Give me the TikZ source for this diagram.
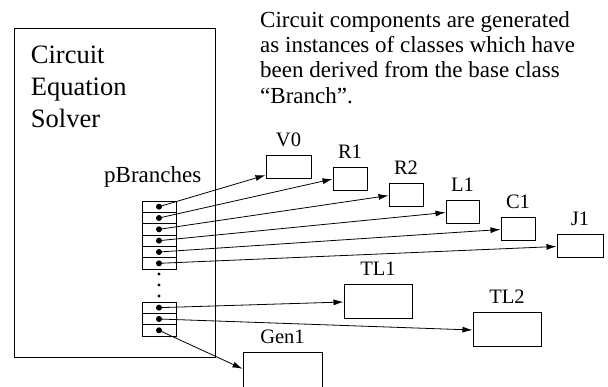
\documentclass[tikz,border=0pt]{standalone}
\usepackage{fontspec}
\setmainfont{Liberation Serif}
\usetikzlibrary{arrows.meta}

\begin{document}
\begin{tikzpicture}[x=1pt,y=-1pt,
        caixa/.style={draw,line width=1pt,inner sep=0pt},
        componente/.style={caixa,
                           label={[font=\fontsize{20.5}{24}\selectfont,inner sep=0pt,yshift=8.5pt]above:#1}},
        celula/.style={draw,line width=0.9pt,minimum width=34pt,minimum height=11.33pt,inner sep=0pt},
        seta/.style={-{Latex[length=10pt,width=6pt]},line width=0.8pt}]
      \clip (0,0) rectangle (608,387);
      \node[caixa,minimum width=201pt,minimum height=329pt] (solver) at (114.5,193.5) {};
      \node[anchor=base west,inner sep=0pt,align=left,font=\fontsize{26.5}{32}\selectfont] (titulo) at (30.7,128) {Circuit\\Equation\\Solver};
      \node[anchor=base west,inner sep=0pt,font=\fontsize{23}{26}\selectfont] (pbranches) at (104,183) {pBranches};
      \node[anchor=base west,inner sep=0pt,align=left,font=\fontsize{23}{25.3}\selectfont] (nota) at (260,103.3)
        {Circuit components are generated\\as instances of classes which have\\been derived from the base class\\“Branch”.};
      % componentes
      \node[componente=V0,minimum width=45pt,minimum height=23pt] (v0) at (288.5,167.5) {};
      \node[componente=R1,minimum width=34pt,minimum height=22.5pt] (r1) at (350,179) {};
      \node[componente=R2,minimum width=34pt,minimum height=23pt] (r2) at (406,195.5) {};
      \node[componente=L1,minimum width=33pt,minimum height=23pt] (l1) at (462.5,212.5) {};
      \node[componente=C1,minimum width=34pt,minimum height=23pt] (c1) at (518,229.5) {};
      \node[componente=J1,minimum width=46pt,minimum height=23pt] (j1) at (580,246.5) {};
      \node[componente=TL1,minimum width=68pt,minimum height=34pt] (tl1) at (378,302) {};
      \node[componente=TL2,minimum width=68pt,minimum height=34pt] (tl2) at (507,330) {};
      \node[componente=Gen1,minimum width=79pt,minimum height=40pt] (gen1) at (282.5,373) {};
      % vetor de ponteiros
      \foreach \i in {1,...,6}
        \node[celula] (a\i) at (159,{201+11.33*(\i-0.5)}) {};
      \foreach \i in {1,2,3}
        \node[celula] (b\i) at (159,{302+11.33*(\i-0.5)}) {};
      \foreach \y in {274,285,296}
        \fill (159,\y) circle (1.6);
      % ponteiros
      \draw[seta] (a1.center) -- ([yshift=4.3pt]v0.south west);
      \draw[seta] (a2.center) -- (r1.west);
      \draw[seta] (a3.center) -- (r2.west);
      \draw[seta] (a4.center) -- (l1.west);
      \draw[seta] (a5.center) -- (c1.west);
      \draw[seta] (a6.center) -- (j1.west);
      \draw[seta] (b1.center) -- (tl1.west);
      \draw[seta] (b2.center) -- (tl2.west);
      \draw[seta] (b3.center) -- ([yshift=-16.3pt]gen1.north west);
      \foreach \n in {a1,a2,a3,a4,a5,a6,b1,b2,b3}
        \fill (\n.center) circle (3);
    \end{tikzpicture}
\end{document}
